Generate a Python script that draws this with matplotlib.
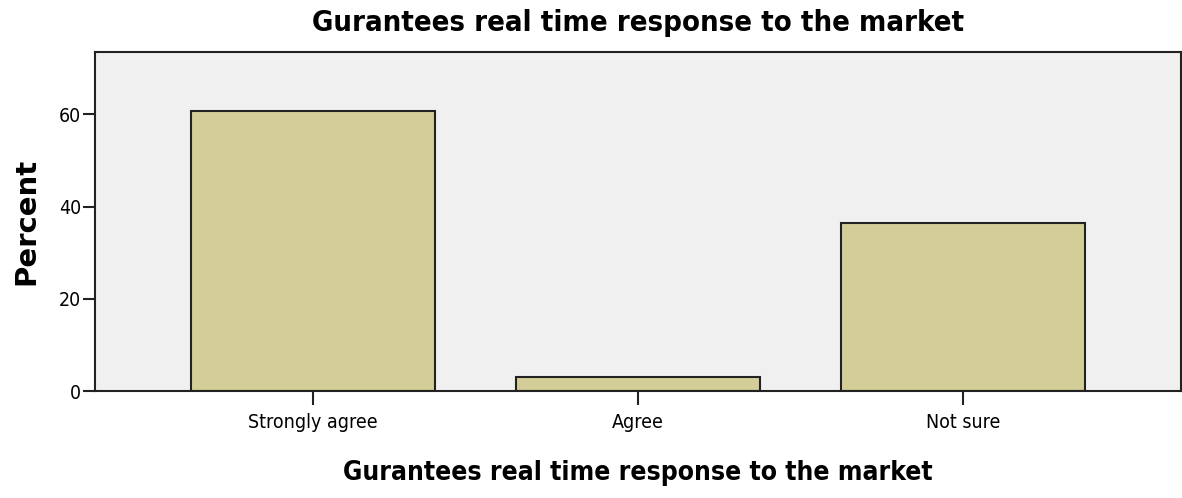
import numpy as np
import matplotlib
matplotlib.use('Agg')
import matplotlib.pyplot as plt

categories = ['Strongly agree', 'Agree', 'Not sure']
percent = [60.6, 3.0, 36.4]
yticks = [0, 20, 40, 60]
title = 'Gurantees real time response to the market'

fig = plt.figure(figsize=(11.82, 4.98), dpi=100)
ax = fig.add_axes([95 / 1182, 107 / 498, 1086 / 1182, 339 / 498])
ax.set_facecolor('#f0f0f0')

x = np.arange(len(categories))
ax.bar(x, percent, width=0.75, color='#d3ce98', edgecolor='#222222', linewidth=1.5, zorder=2)

ax.set_xlim(-0.67, 2.67)
ax.set_ylim(0, 73.5)
ax.set_xticks(x)
ax.set_xticklabels(categories, family='DejaVu Sans', stretch='condensed', fontsize=14)
ax.set_yticks(yticks)
ax.set_yticklabels([str(v) for v in yticks], family='DejaVu Sans', stretch='condensed', fontsize=14)
ax.tick_params(axis='x', length=10, width=1.5, color='#222222', pad=6)
ax.tick_params(axis='y', length=9, width=1.5, color='#222222', pad=1)
for s in ax.spines.values():
    s.set_linewidth(1.5)
    s.set_color('#222222')

ax.set_ylabel('Percent', family='DejaVu Sans', fontsize=21, fontweight='bold', labelpad=13)
ax.set_xlabel(title, family='DejaVu Sans', stretch='condensed', fontsize=19, fontweight='bold', labelpad=20)
ax.set_title(title, family='DejaVu Sans', stretch='condensed', fontsize=21, fontweight='bold', pad=15)

fig.savefig('out.png', dpi=100)
